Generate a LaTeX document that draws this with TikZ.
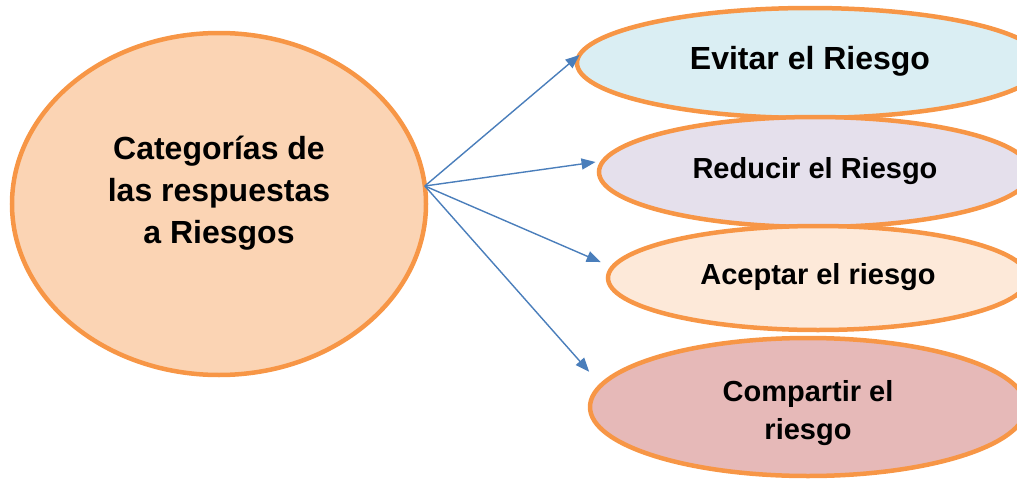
\documentclass[tikz,border=0pt]{standalone}
\usepackage{fontspec}
\setmainfont{Liberation Sans}
\usetikzlibrary{shapes.geometric,arrows.meta}
\definecolor{borde}{HTML}{F79646}
\definecolor{flecha}{HTML}{4A7EBB}
\definecolor{fondoCat}{HTML}{FBD4B4}
\definecolor{fondoEvitar}{HTML}{DAEEF3}
\definecolor{fondoReducir}{HTML}{E5E0EC}
\definecolor{fondoAceptar}{HTML}{FDE9D9}
\definecolor{fondoCompartir}{HTML}{E6B9B8}
\begin{document}
\begin{tikzpicture}[x=1pt, y=-1pt,
  elipse/.style={ellipse, draw=borde, line width=4.5pt, inner sep=0pt, outer sep=0pt, align=center, font=\bfseries},
  arr/.style={draw=flecha, line width=1.4pt, -{Triangle[length=14pt,width=11pt]}}]
  \useasboundingbox (0,0) rectangle (1017,479);
  \clip (0,0) rectangle (1017,479);
  \node[elipse, fill=fondoCat, minimum width=414pt, minimum height=342pt, text depth=28pt,
        font=\bfseries\fontsize{32}{42}\selectfont] (cat) at (219,204) {Categorías de\\las respuestas\\a Riesgos};
  \node[elipse, fill=fondoEvitar, minimum width=466pt, minimum height=110pt, text depth=10pt,
        font=\bfseries\fontsize{32}{38}\selectfont] (evitar) at (810,63) {Evitar el Riesgo};
  \node[elipse, fill=fondoReducir, minimum width=432pt, minimum height=110pt, text depth=8pt,
        font=\bfseries\fontsize{29}{38}\selectfont] (reducir) at (815,172) {Reducir el Riesgo};
  \node[elipse, fill=fondoAceptar, minimum width=420pt, minimum height=104pt, text depth=8pt,
        font=\bfseries\fontsize{29}{38}\selectfont] (aceptar) at (818,278) {Aceptar el riesgo};
  \node[elipse, fill=fondoCompartir, minimum width=436pt, minimum height=138pt, text height=72pt,
        font=\bfseries\fontsize{29}{38}\selectfont] (compartir) at (808,407) {Compartir el\\riesgo};
  % flechas desde la categoria
  \draw[arr] (cat.5) -- (evitar.178);
  \draw[arr, shorten >=8pt] (cat.5) -- (reducir.177);
  \draw[arr, shorten >=13pt] (cat.5) -- (aceptar.177);
  \draw[arr, shorten >=18pt] (cat.5) -- (compartir.174);
\end{tikzpicture}
\end{document}
